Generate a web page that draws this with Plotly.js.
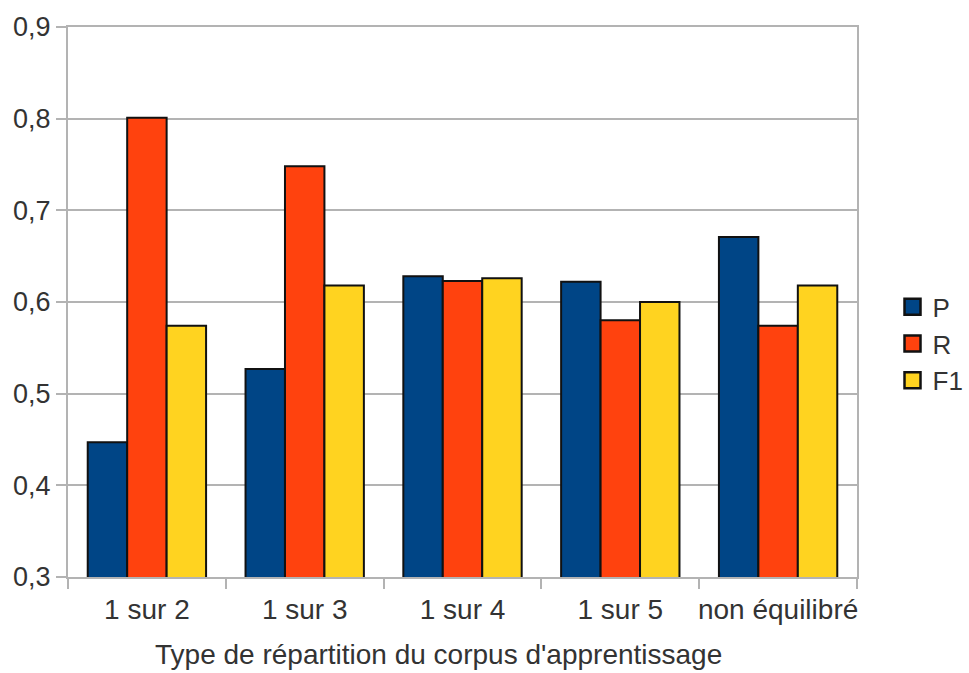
<!DOCTYPE html>
<html><head><meta charset="utf-8">
<script src="https://cdn.plot.ly/plotly-3.0.1.min.js"></script>
<style>html,body{margin:0;padding:0;background:#fff}#c{width:969px;height:673px}</style>
</head><body><div id="c"></div>
<script>
var categories = ["1 sur 2", "1 sur 3", "1 sur 4", "1 sur 5", "non équilibré"];
var seriesNames = ["P", "R", "F1"];
var P  = [0.447, 0.527, 0.628, 0.622, 0.671];
var R  = [0.801, 0.748, 0.623, 0.580, 0.574];
var F1 = [0.574, 0.618, 0.626, 0.600, 0.618];
var colors = ["#004586", "#ff420e", "#ffd320"];
var yTicks = [0.3, 0.4, 0.5, 0.6, 0.7, 0.8, 0.9];
var xTitle = "Type de répartition du corpus d'apprentissage";

var values = [P, R, F1];
var fam = "Liberation Sans, Arial, sans-serif";
var font = {family: fam, size: 27, color: "#333"};
var fontX = {family: fam, size: 28, color: "#333"};
var fontL = {family: fam, size: 26, color: "#333"};
var traces = [];
values.forEach(function(v, i){
  traces.push({type: "bar", x: categories, y: v, name: seriesNames[i], showlegend: false,
    marker: {color: colors[i], line: {color: "#111", width: 2}}, hoverinfo: "none"});
});
values.forEach(function(v, i){
  traces.push({type: "scatter", mode: "markers", x: [null], y: [null], name: seriesNames[i],
    marker: {symbol: "square", size: 22, color: colors[i], line: {color: "#111", width: 2.5}}});
});
var layout = {
  width: 969, height: 673,
  margin: {l: 68, r: 112, t: 27, b: 96, autoexpand: false},
  paper_bgcolor: "#fff", plot_bgcolor: "#fff",
  font: font,
  separators: ",.",
  bargap: 0.25, bargroupgap: 0,
  barmode: "group",
  showlegend: true,
  legend: {x: 1.045, xanchor: "left", y: 0.424, yanchor: "middle", font: fontL,
    itemsizing: "trace", tracegroupgap: 0, itemwidth: 30, bgcolor: "rgba(0,0,0,0)"},
  xaxis: {type: "category", tickson: "boundaries", ticks: "outside", ticklen: 10, tickcolor: "#b3b3b3", tickwidth: 2,
    ticklabelstandoff: 6, tickangle: 0, automargin: false,
    showline: true, linecolor: "#b3b3b3", linewidth: 2, mirror: true, showgrid: false,
    tickfont: fontX},
  yaxis: {range: [0.3, 0.9], tickvals: yTicks, tickformat: ".1f", ticks: "outside", ticklen: 10, tickcolor: "#b3b3b3", tickwidth: 2,
    showline: true, linecolor: "#b3b3b3", linewidth: 2, mirror: true, showgrid: true, gridcolor: "#b3b3b3", gridwidth: 2,
    zeroline: false, tickfont: font, automargin: false},
  annotations: [{text: xTitle, font: fontX, xref: "paper", yref: "paper", x: 0.469, y: -0.14,
    xanchor: "center", yanchor: "middle", showarrow: false}]
};
Plotly.newPlot("c", traces, layout, {staticPlot: true});
</script></body></html>
